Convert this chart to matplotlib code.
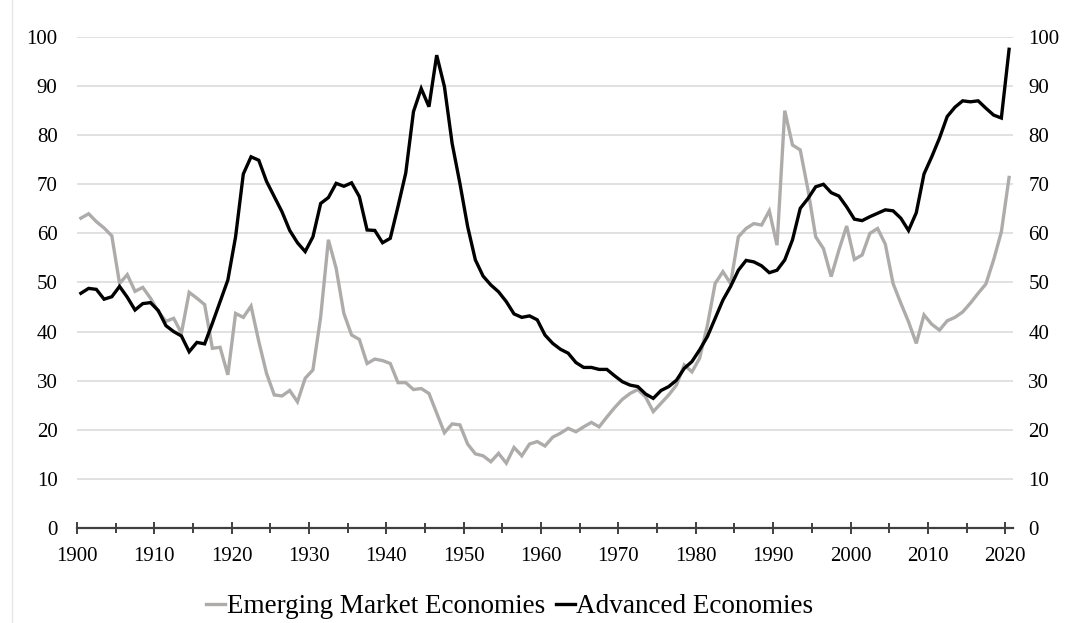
import matplotlib
matplotlib.use("Agg")
import matplotlib.pyplot as plt
from matplotlib.lines import Line2D
import numpy as np

years = list(range(1900, 2021))

emerging = [
    63.1, 64.0, 62.4, 61.1, 59.5, 49.8, 51.6, 48.2, 49.0, 46.8,   # 1900-1909
    44.1, 42.1, 42.7, 39.7, 48.0, 46.8, 45.5, 36.6, 36.8, 31.2,   # 1910-1919
    43.7, 42.9, 45.2, 38.0, 31.5, 27.1, 26.9, 28.0, 25.7, 30.5,   # 1920-1929
    32.2, 43.0, 58.7, 52.9, 43.7, 39.3, 38.4, 33.5, 34.4, 34.1,   # 1930-1939
    33.5, 29.6, 29.6, 28.2, 28.4, 27.4, 23.4, 19.4, 21.2, 21.0,   # 1940-1949
    17.1, 15.1, 14.7, 13.5, 15.2, 13.2, 16.4, 14.7, 17.1, 17.6,   # 1950-1959
    16.7, 18.5, 19.3, 20.3, 19.6, 20.6, 21.5, 20.6, 22.6, 24.5,   # 1960-1969
    26.2, 27.4, 28.2, 26.7, 23.7, 25.4, 27.1, 29.1, 33.2, 31.8,   # 1970-1979
    34.6, 41.3, 49.8, 52.2, 49.8, 59.3, 61.0, 62.0, 61.7, 64.6,   # 1980-1989
    57.6, 85.0, 78.0, 77.0, 68.9, 59.3, 56.9, 51.2, 56.6, 61.5,   # 1990-1999
    54.7, 55.6, 60.0, 61.0, 57.8, 49.8, 45.8, 42.0, 37.6, 43.4,   # 2000-2009
    41.5, 40.3, 42.2, 42.9, 44.0, 45.8, 47.8, 49.7, 54.6, 60.3,   # 2010-2019
    71.4,                                                         # 2020
]

advanced = [
    47.8, 48.8, 48.6, 46.6, 47.1, 49.2, 47.0, 44.4, 45.7, 45.9,   # 1900-1909
    44.3, 41.2, 40.0, 39.1, 35.9, 37.8, 37.5, 41.7, 46.1, 50.5,   # 1910-1919
    59.3, 72.1, 75.6, 74.9, 70.6, 67.5, 64.4, 60.6, 58.1, 56.3,   # 1920-1929
    59.3, 66.1, 67.3, 70.2, 69.6, 70.3, 67.5, 60.7, 60.6, 58.1,   # 1930-1939
    59.0, 65.5, 72.3, 84.8, 89.5, 85.8, 96.3, 89.9, 78.3, 70.2,   # 1940-1949
    61.4, 54.6, 51.3, 49.5, 48.1, 46.1, 43.6, 42.9, 43.2, 42.4,   # 1950-1959
    39.3, 37.6, 36.4, 35.6, 33.7, 32.7, 32.7, 32.3, 32.3, 31.0,   # 1960-1969
    29.8, 29.1, 28.8, 27.3, 26.4, 28.0, 28.8, 30.1, 32.5, 33.9,   # 1970-1979
    36.3, 39.0, 42.7, 46.4, 49.2, 52.5, 54.5, 54.2, 53.4, 52.0,   # 1980-1989
    52.5, 54.6, 58.7, 65.1, 67.1, 69.5, 70.0, 68.3, 67.6, 65.4,   # 1990-1999
    62.9, 62.6, 63.4, 64.1, 64.8, 64.6, 63.1, 60.6, 64.2, 72.1,   # 2000-2009
    75.6, 79.4, 83.8, 85.7, 87.0, 86.8, 87.0, 85.5, 84.1, 83.5,   # 2010-2019
    97.5,                                                         # 2020
]

x_tick_labels = [str(y) for y in range(1900, 2021, 10)]
y_ticks = list(range(0, 101, 10))

plt.rcParams['font.family'] = ['Liberation Serif', 'DejaVu Serif']

fig = plt.figure(figsize=(10.71, 6.23), dpi=100)
ax = fig.add_axes([0.0719, 0.1525, 0.8739, 0.7881])

xs = np.array(years) + 0.5  # category-centred positions
gray = '#AEABAB'
ax.plot(xs, emerging, color=gray, lw=2.4, solid_joinstyle='miter',
        label='Emerging Market Economies', zorder=3)
ax.plot(xs, advanced, color='black', lw=2.4, solid_joinstyle='miter',
        label='Advanced Economies', zorder=4)

ax.set_xlim(1900, 2021)
ax.set_ylim(0, 100)
ax.set_yticks(y_ticks)
ax.yaxis.grid(True, color='#D9D9D9', lw=1.1)
ax.set_axisbelow(True)

for s in ['top', 'left', 'right']:
    ax.spines[s].set_visible(False)
ax.spines['bottom'].set_color('#404040')
ax.spines['bottom'].set_linewidth(1.6)
ax.spines['bottom'].set_zorder(5)

ax.set_xticks(range(1900, 2021, 10))
ax.set_xticklabels(x_tick_labels)
ax.set_xticks(range(1905, 2021, 10), minor=True)
ax.tick_params(axis='x', which='major', direction='inout', length=9, width=1.4,
               color='#404040', labelsize=15, pad=9)
ax.tick_params(axis='x', which='minor', direction='inout', length=7, width=1.4,
               color='#404040')
ax.tick_params(axis='y', which='both', length=0, labelsize=15, pad=14,
               labelcolor='#000000')

ax2 = ax.twinx()
ax2.set_ylim(0, 100)
ax2.set_yticks(y_ticks)
for s in ['top', 'left', 'right', 'bottom']:
    ax2.spines[s].set_visible(False)
ax2.tick_params(axis='y', length=0, labelsize=15, pad=11)

handles, labels = ax.get_legend_handles_labels()
fig.legend(handles, labels, loc='center', bbox_to_anchor=(0.476, 0.026),
           ncol=2, frameon=False, fontsize=19.5, handlelength=0.7,
           handletextpad=0.05, columnspacing=0.4)

fig.add_artist(Line2D([0.011, 0.011], [0.0, 1.0], color='#E6E6E6', lw=1,
                      transform=fig.transFigure))

fig.savefig('out.png', dpi=100)
